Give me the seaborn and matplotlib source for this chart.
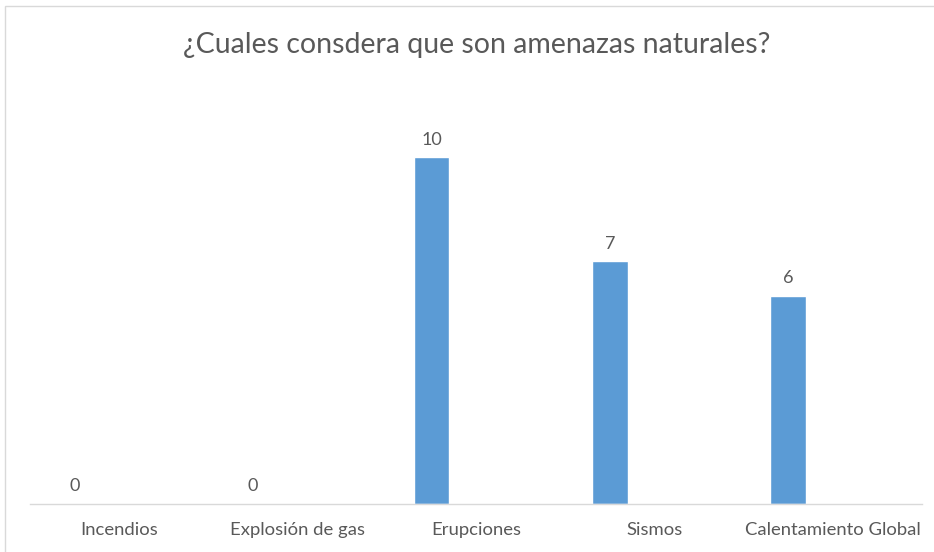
import matplotlib
matplotlib.use("Agg")
import matplotlib.pyplot as plt
from matplotlib.patches import Rectangle
import seaborn as sns
import pandas as pd
import numpy as np

categories = ["Incendios", "Explosión de gas", "Erupciones", "Sismos", "Calentamiento Global"]
counts = [0, 0, 10, 7, 6]
series_names = ["Serie 1", "Serie 2"]
title = "¿Cuales consdera que son amenazas naturales?"

sns.set_theme(style="white")
plt.rcParams["font.family"] = ["Lato", "DejaVu Sans"]

# Two-series clustered layout; the second series is empty so each bar sits left of its slot
df = pd.DataFrame({
    "categoria": categories * 2,
    "serie": [series_names[0]] * len(categories) + [series_names[1]] * len(categories),
    "valor": counts + [np.nan] * len(categories),
})

fig = plt.figure(figsize=(9.34, 5.52), dpi=100)
ax = fig.add_axes([30 / 934, 48 / 552, 892 / 934, 416 / 552])

sns.barplot(data=df, x="categoria", y="valor", hue="serie", order=categories,
            hue_order=series_names, palette=["#5b9bd5", "#ed7d31"],
            width=1.0, gap=0.6, legend=False, ax=ax, errorbar=None,
            saturation=1)

ax.bar_label(ax.containers[0], labels=[f"{v:g}" for v in counts], padding=7,
             fontsize=13, color="#595959")

ax.set_ylim(0, 12)
ax.set_xlim(-0.5, len(categories) - 0.5)
ax.set_xlabel("")
ax.set_ylabel("")
ax.set_yticks([])
ax.tick_params(axis="x", length=0, pad=13, labelsize=13.3, labelcolor="#595959")
for side in ["top", "left", "right"]:
    ax.spines[side].set_visible(False)
ax.spines["bottom"].set_color("#d9d9d9")
ax.spines["bottom"].set_linewidth(1.0)

fig.text(477 / 934, 1 - 45 / 552, title, ha="center", va="center",
         fontsize=20.5, color="#595959")

# chart area frame
fig.patches.append(Rectangle((5 / 934, -0.1), 1.1, 1 - 6 / 552 + 0.1,
                             transform=fig.transFigure, fill=False,
                             edgecolor="#d9d9d9", linewidth=1.0))

fig.savefig("out.png", dpi=100)
